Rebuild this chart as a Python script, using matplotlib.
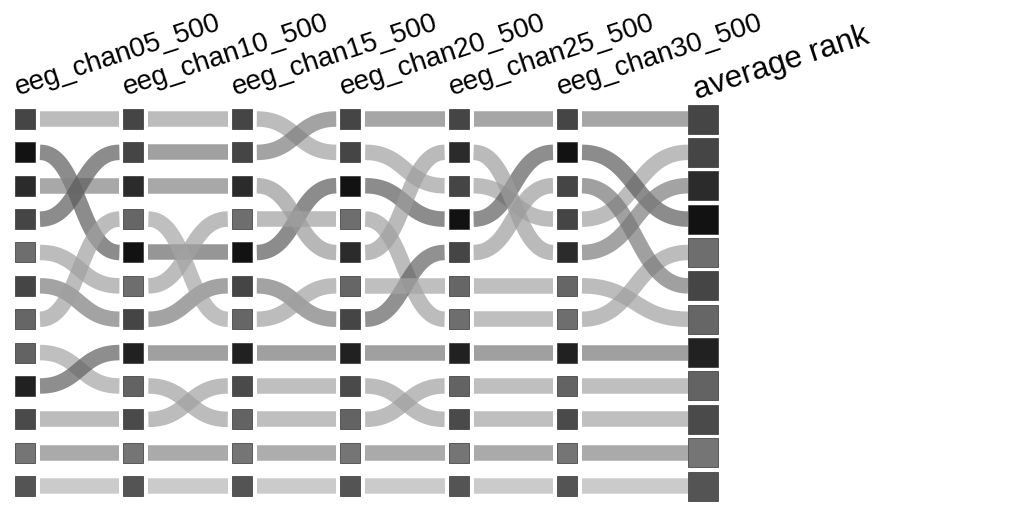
import numpy as np
import matplotlib.pyplot as plt
from matplotlib.patches import Rectangle

# column headers (last one is the summary column)
columns = ['eeg_chan05_500', 'eeg_chan10_500', 'eeg_chan15_500',
           'eeg_chan20_500', 'eeg_chan25_500', 'eeg_chan30_500',
           'average rank']

# rank (0 = top) of each item in every column
ranks = [
    [0, 0, 0, 1, 2, 3, 1],
    [1, 4, 4, 2, 3, 1, 3],
    [2, 2, 2, 4, 1, 4, 2],
    [3, 1, 1, 0, 0, 0, 0],
    [4, 5, 3, 3, 6, 6, 4],
    [5, 6, 5, 6, 4, 2, 5],
    [6, 3, 6, 5, 5, 5, 6],
    [7, 8, 9, 9, 8, 8, 8],
    [8, 7, 7, 7, 7, 7, 7],
    [9, 9, 8, 8, 9, 9, 9],
    [10, 10, 10, 10, 10, 10, 10],
    [11, 11, 11, 11, 11, 11, 11],
]

# gray level of each item's square
item_gray = [0.27, 0.07, 0.17, 0.27, 0.43, 0.27, 0.40, 0.39, 0.13, 0.29, 0.46, 0.33]

# apparent gray of each link between two neighbouring columns
link_gray = [
    [0.74, 0.74, 0.74, 0.74, 0.74, 0.74],
    [0.55, 0.59, 0.55, 0.55, 0.56, 0.55],
    [0.66, 0.66, 0.72, 0.73, 0.73, 0.64],
    [0.55, 0.63, 0.64, 0.65, 0.65, 0.65],
    [0.74, 0.74, 0.74, 0.74, 0.75, 0.74],
    [0.64, 0.64, 0.64, 0.57, 0.73, 0.63],
    [0.74, 0.75, 0.74, 0.75, 0.75, 0.74],
    [0.75, 0.74, 0.75, 0.74, 0.75, 0.75],
    [0.56, 0.63, 0.63, 0.63, 0.63, 0.63],
    [0.74, 0.74, 0.75, 0.74, 0.75, 0.75],
    [0.67, 0.67, 0.68, 0.67, 0.67, 0.67],
    [0.80, 0.80, 0.80, 0.80, 0.80, 0.80],
]

# layout (pixels)
W, H = 1022, 510
X0, XSTEP = 25, 108.4
Y0, YSTEP = 120, 33.37
AVG_X = (703 - X0) / XSTEP
ALPHA = 0.7

fig = plt.figure(figsize=(W / 100, H / 100), dpi=100)
ax = fig.add_axes([0, 0, 1, 1])
ax.set_xlim(-X0 / XSTEP, (W - X0) / XSTEP)
ax.set_ylim((H - Y0) / YSTEP, -Y0 / YSTEP)
ax.axis('off')

ncol = len(columns)
col_x = [float(i) for i in range(ncol - 1)] + [AVG_X]
sq_w, sq_h = 20 / XSTEP, 20 / YSTEP
avg_w, avg_h = 30 / XSTEP, 29 / YSTEP


def bezier(x0, y0, x1, y1, n=80):
    t = np.linspace(0, 1, n)
    xm = (x0 + x1) / 2
    x = (1 - t) ** 3 * x0 + 3 * (1 - t) ** 2 * t * xm + 3 * (1 - t) * t ** 2 * xm + t ** 3 * x1
    y = (1 - t) ** 3 * y0 + 3 * (1 - t) ** 2 * t * y0 + 3 * (1 - t) * t ** 2 * y1 + t ** 3 * y1
    return x, y


# links
for item, r in enumerate(ranks):
    for g in range(ncol - 1):
        xs = col_x[g] + 15 / XSTEP
        if g == ncol - 2:
            xe = col_x[g + 1] - avg_w / 2
        else:
            xe = col_x[g + 1] - 14 / XSTEP
        x, y = bezier(xs, r[g], xe, r[g + 1])
        base = 1 - (1 - link_gray[item][g]) / ALPHA
        ax.plot(x, y, color=str(base), alpha=ALPHA, lw=15.5 * 0.72,
                solid_capstyle='butt', zorder=2)

# squares
for item, r in enumerate(ranks):
    c = str(item_gray[item])
    for j in range(ncol):
        if j == ncol - 1:
            w, h = avg_w, avg_h
        else:
            w, h = sq_w, sq_h
        ax.add_patch(Rectangle((col_x[j] - w / 2, r[j] - h / 2), w, h,
                               facecolor=c, edgecolor='0.2', lw=0.5, zorder=3))

# column headers
for j, name in enumerate(columns):
    if j == ncol - 1:
        ax.text(col_x[j] - 6 / XSTEP, (99 - Y0) / YSTEP, name, rotation=18,
                rotation_mode='anchor', ha='left', va='baseline',
                fontsize=22.5, family='Liberation Sans')
    else:
        ax.text(col_x[j] - 7 / XSTEP, (95 - Y0) / YSTEP, name, rotation=18,
                rotation_mode='anchor', ha='left', va='baseline',
                fontsize=20, family='Liberation Sans')

fig.savefig('out.png', dpi=100, facecolor='white')
